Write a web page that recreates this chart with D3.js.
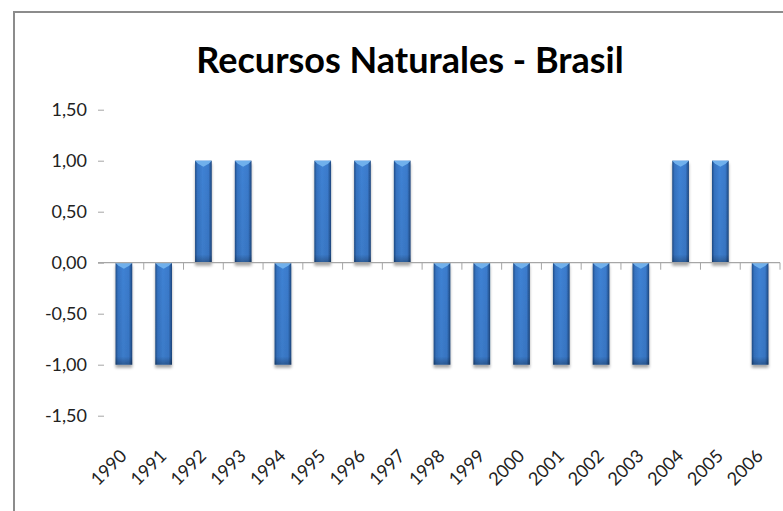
<!DOCTYPE html>
<html>
<head>
<meta charset="utf-8">
<script src="https://cdnjs.cloudflare.com/ajax/libs/d3/7.8.5/d3.min.js"></script>
<style>
  html, body { margin: 0; padding: 0; background: #fff; }
  svg { display: block; font-family: Lato, "Open Sans", sans-serif; }
</style>
</head>
<body>
<svg id="chart" width="783" height="511"></svg>
<script>
// chart data
var years = ['1990', '1991', '1992', '1993', '1994', '1995', '1996', '1997', '1998',
  '1999', '2000', '2001', '2002', '2003', '2004', '2005', '2006'];
var values = [-1, -1, 1, 1, -1, 1, 1, 1, -1, -1, -1, -1, -1, -1, 1, 1, -1];
var yTicks = [-1.5, -1, -0.5, 0, 0.5, 1, 1.5];
var title = 'Recursos Naturales - Brasil';

var svg = d3.select('#chart');
var defs = svg.append('defs');

var grad = defs.append('linearGradient')
  .attr('id', 'barGrad')
  .attr('x1', '0').attr('x2', '1').attr('y1', '0').attr('y2', '0');
[['0%', '#1f4c86'], ['14%', '#3572c0'], ['45%', '#3f82d4'], ['80%', '#3a7acb'], ['100%', '#1d467d']]
  .forEach(function(s) {
    grad.append('stop').attr('offset', s[0]).attr('stop-color', s[1]);
  });

var vgrad = defs.append('linearGradient')
  .attr('id', 'barShade')
  .attr('x1', '0').attr('x2', '0').attr('y1', '0').attr('y2', '1');
vgrad.append('stop').attr('offset', '0%').attr('stop-color', '#000').attr('stop-opacity', 0);
vgrad.append('stop').attr('offset', '92%').attr('stop-color', '#000').attr('stop-opacity', 0.05);
vgrad.append('stop').attr('offset', '100%').attr('stop-color', '#000').attr('stop-opacity', 0.3);

var shadow = defs.append('filter')
  .attr('id', 'barShadow')
  .attr('x', '-30%').attr('y', '-10%').attr('width', '160%').attr('height', '130%');
shadow.append('feGaussianBlur').attr('in', 'SourceAlpha').attr('stdDeviation', 1.8);
shadow.append('feOffset').attr('dx', 0).attr('dy', 3).attr('result', 'off');
shadow.append('feComponentTransfer').append('feFuncA').attr('type', 'linear').attr('slope', 0.35);
var merge = shadow.append('feMerge');
merge.append('feMergeNode');
merge.append('feMergeNode').attr('in', 'SourceGraphic');

// outer frame (runs off the right and bottom edge)
svg.append('rect')
  .attr('x', 14).attr('y', 12)
  .attr('width', 800).attr('height', 520)
  .attr('fill', 'none')
  .attr('stroke', '#8c8c8c')
  .attr('stroke-width', 2);

svg.append('text')
  .attr('x', 410)
  .attr('y', 73)
  .attr('text-anchor', 'middle')
  .attr('font-size', 36)
  .attr('font-weight', 700)
  .attr('fill', '#000')
  .text(title);

var x = d3.scaleBand()
  .domain(years)
  .range([104, 780])
  .paddingInner(0.58)
  .paddingOuter(0.29);

var y = d3.scaleLinear()
  .domain([-1.5, 1.5])
  .range([415.7, 109.7]);

// Spanish style decimals, plain hyphen for negatives
var fmt = function(d) { return d3.format('.2f')(d).replace('.', ',').replace('\u2212', '-'); };

// y axis: tick marks and labels only
var yAxis = svg.append('g')
  .attr('transform', 'translate(104,0)')
  .call(d3.axisLeft(y).tickValues(yTicks).tickFormat(fmt).tickSize(6).tickPadding(11));
yAxis.select('.domain').remove();
yAxis.selectAll('line').attr('stroke', '#a6a6a6');
yAxis.selectAll('text')
  .attr('font-family', 'Lato, sans-serif')
  .attr('font-size', 18)
  .attr('fill', '#222');

// bars
var step = x.step();
var bars = svg.append('g').selectAll('g.bar')
  .data(values)
  .join('g')
  .attr('class', 'bar')
  .attr('filter', 'url(#barShadow)');

bars.append('rect')
  .attr('x', function(d, i) { return x(years[i]); })
  .attr('y', function(d) { return y(Math.max(0, d)); })
  .attr('width', x.bandwidth())
  .attr('height', function(d) { return Math.abs(y(d) - y(0)); })
  .attr('fill', 'url(#barGrad)');

bars.append('rect')
  .attr('x', function(d, i) { return x(years[i]); })
  .attr('y', function(d) { return y(Math.max(0, d)); })
  .attr('width', x.bandwidth())
  .attr('height', function(d) { return Math.abs(y(d) - y(0)); })
  .attr('fill', 'url(#barShade)');

// bevel highlight at the top edge of each bar
bars.append('path')
  .attr('d', function(d, i) {
    var x0 = x(years[i]), w = x.bandwidth(), top = y(Math.max(0, d));
    return 'M' + x0 + ',' + top + 'L' + (x0 + w) + ',' + top +
      'L' + (x0 + w - 3) + ',' + (top + 3) + 'L' + (x0 + w / 2) + ',' + (top + 6) +
      'L' + (x0 + 3) + ',' + (top + 3) + 'Z';
  })
  .attr('fill', '#6fb0ec');

// zero line with category ticks
var xAxis = svg.append('g')
  .attr('transform', 'translate(0,' + y(0) + ')');
xAxis.append('line')
  .attr('x1', 98).attr('x2', 780)
  .attr('stroke', '#a6a6a6').attr('stroke-width', 1.3);
xAxis.selectAll('line.tick')
  .data(d3.range(1, years.length + 1))
  .join('line')
  .attr('class', 'tick')
  .attr('x1', function(i) { return 104 + i * step; })
  .attr('x2', function(i) { return 104 + i * step; })
  .attr('y1', 0).attr('y2', 7)
  .attr('stroke', '#a6a6a6');

// year labels at the bottom, rotated
svg.append('g').selectAll('text')
  .data(years)
  .join('text')
  .attr('transform', function(d) {
    return 'translate(' + (x(d) + x.bandwidth() / 2 + 4) + ',457) rotate(-45)';
  })
  .attr('text-anchor', 'end')
  .attr('font-size', 18)
  .attr('fill', '#222')
  .text(function(d) { return d; });
</script>
</body>
</html>
